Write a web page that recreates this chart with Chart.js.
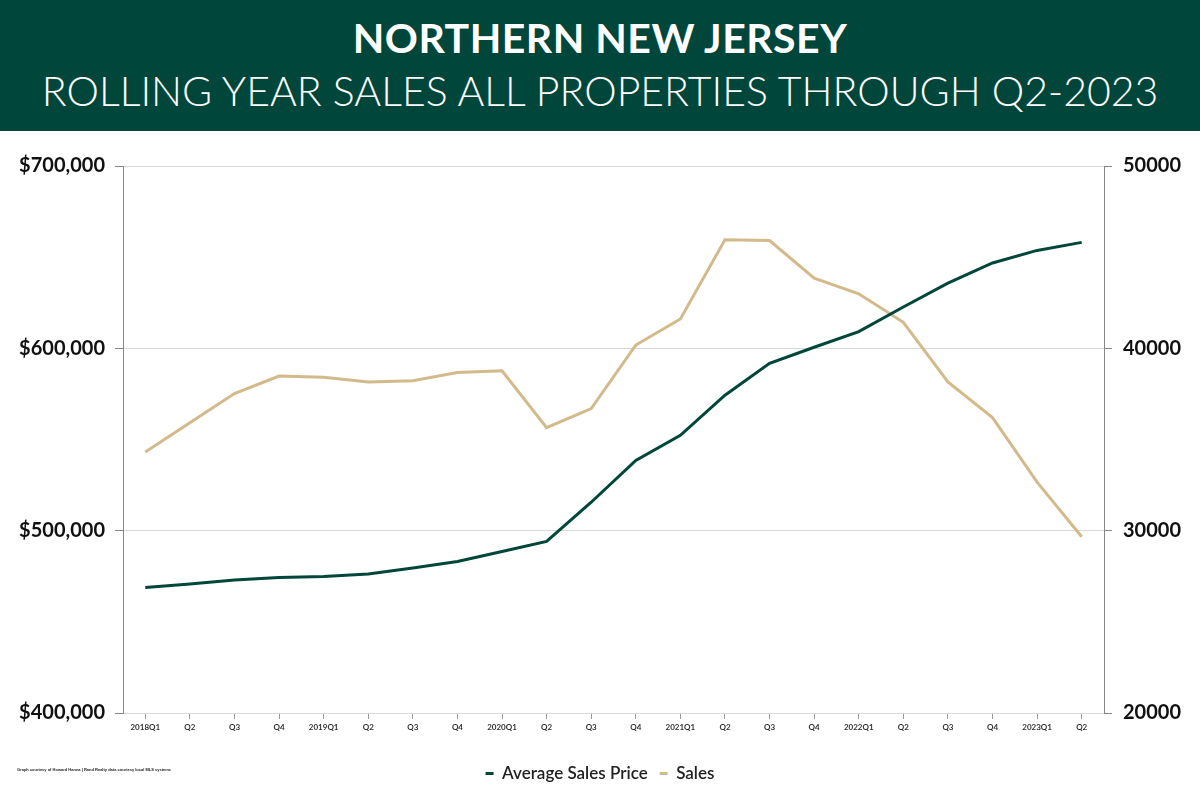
<!DOCTYPE html>
<html>
<head>
<meta charset="utf-8">
<script src="https://cdn.jsdelivr.net/npm/chart.js@4.4.0/dist/chart.umd.min.js"></script>
<style>
  html, body { margin: 0; padding: 0; background: #fff; }
  body { width: 1200px; height: 800px; position: relative; overflow: hidden; }
  .header {
    height: 131px; background: #01463A; color: #fff; text-align: center;
    font-family: Lato, "Open Sans", sans-serif;
  }
  .header .t1 { font-weight: 700; font-size: 41px; line-height: 41px; padding-top: 17px; letter-spacing: 0.5px; }
  .header .t2 { font-weight: 300; font-size: 41px; line-height: 41px; padding-top: 12px; }
  .chart-box { position: absolute; left: 0; top: 131px; width: 1200px; height: 669px; }
  .credit {
    position: absolute; left: 17px; top: 767px; font-family: "Liberation Sans", sans-serif;
    font-size: 4px; color: #222; font-weight: bold;
  }
</style>
</head>
<body>
<div class="header">
  <div class="t1">NORTHERN NEW JERSEY</div>
  <div class="t2">ROLLING YEAR SALES ALL PROPERTIES THROUGH Q2-2023</div>
</div>
<div class="chart-box"><canvas id="myChart"></canvas></div>
<div class="credit">Graph courtesy of Howard Hanna | Rand Realty data courtesy local MLS systems</div>
<script>
var quarters = ["2018Q1", "Q2", "Q3", "Q4", "2019Q1", "Q2", "Q3", "Q4", "2020Q1", "Q2", "Q3", "Q4",
  "2021Q1", "Q2", "Q3", "Q4", "2022Q1", "Q2", "Q3", "Q4", "2023Q1", "Q2"];
var avgPrice = [468800, 470700, 472900, 474300, 474900, 476200, 479500, 483100, 488600, 494100, 515600,
  538500, 552300, 574300, 591800, 600600, 609200, 622700, 635800, 646800, 653700, 658100];
var sales = [34310, 35920, 37520, 38480, 38420, 38150, 38220, 38680, 38770, 35650, 36700,
  40180, 41610, 45960, 45910, 43850, 42990, 41430, 38160, 36200, 32660, 29670];

var green = "#00473A";
var tan = "#D3BA8A";

new Chart("myChart", {
  type: "line",
  data: {
    labels: quarters,
    datasets: [{
      label: "Average Sales Price",
      data: avgPrice,
      borderColor: green,
      backgroundColor: green,
      borderWidth: 3,
      pointRadius: 0,
      tension: 0,
      yAxisID: "y"
    }, {
      label: "Sales",
      data: sales,
      borderColor: tan,
      backgroundColor: tan,
      borderWidth: 3,
      pointRadius: 0,
      tension: 0,
      yAxisID: "y1"
    }]
  },
  options: {
    responsive: true,
    maintainAspectRatio: false,
    animation: false,
    layout: { padding: { top: 35, bottom: 8, left: 0, right: 0 } },
    plugins: {
      tooltip: { enabled: false },
      legend: {
        position: "bottom",
        labels: {
          usePointStyle: true,
          pointStyle: "line",
          pointStyleWidth: 8,
          boxHeight: 8,
          padding: 12,
          color: "#222",
          font: { family: "Lato, sans-serif", size: 17, weight: "600" }
        }
      }
    },
    scales: {
      x: {
        offset: true,
        grid: { offset: false, drawOnChartArea: false, tickLength: 6, color: "#999", tickColor: "#999" },
        border: { color: "#d9d9d9" },
        ticks: {
          autoSkip: false, maxRotation: 0, padding: 4, color: "#333",
          font: { family: "Lato, sans-serif", size: 8, weight: "bold" }
        },
        afterFit: function (scale) { scale.height = 40; }
      },
      y: {
        position: "left",
        min: 400000,
        max: 700000,
        grid: { color: "#d9d9d9", tickLength: 8, tickColor: "#888" },
        border: { color: "#888" },
        ticks: {
          stepSize: 100000, padding: 10, color: "#111",
          font: { family: "Lato, sans-serif", size: 20, weight: "bold" },
          callback: function (v) { return "$" + v.toLocaleString("en-US"); }
        },
        afterFit: function (scale) { scale.width = 123; }
      },
      y1: {
        position: "right",
        min: 20000,
        max: 50000,
        grid: { drawOnChartArea: false, tickLength: 8, tickColor: "#888" },
        border: { color: "#888" },
        ticks: {
          stepSize: 10000, padding: 11, color: "#111",
          font: { family: "Lato, sans-serif", size: 20, weight: "bold" },
          callback: function (v) { return String(v); }
        },
        afterFit: function (scale) { scale.width = 96; }
      }
    }
  }
});
</script>
</body>
</html>
